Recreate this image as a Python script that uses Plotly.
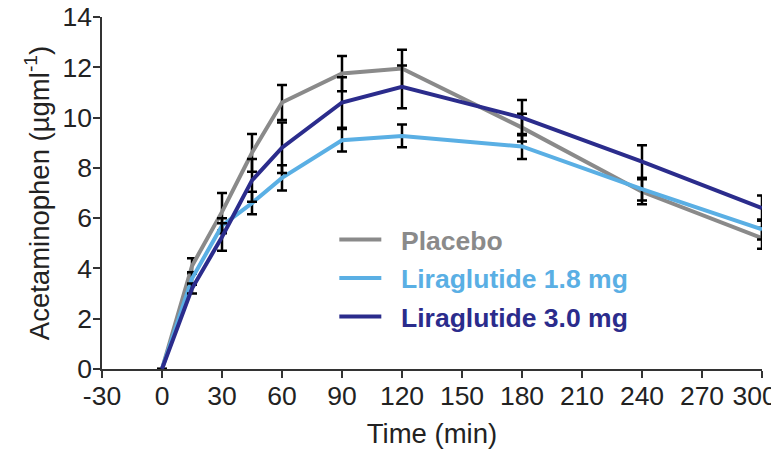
import plotly.graph_objects as go

time_min = [0, 15, 30, 45, 60, 90, 120, 180, 240, 300]

placebo = [0, 4.1, 6.25, 8.6, 10.6, 11.75, 11.95, 9.6, 7.05, 5.2]
placebo_err = [0, 0.3, 0.75, 0.75, 0.7, 0.7, 0.75, 0.55, 0.5, 0.42]

lira18 = [0, 3.6, 5.7, 6.6, 7.6, 9.1, 9.27, 8.85, 7.15, 5.55]
lira18_err = [0, 0.25, 0.3, 0.45, 0.5, 0.45, 0.45, 0.5, 0.45, 0.4]

lira30 = [0, 3.2, 5.25, 7.5, 8.8, 10.6, 11.22, 10.0, 8.25, 6.4]
lira30_err = [0, 0.2, 0.55, 0.85, 1.0, 1.0, 0.85, 0.7, 0.65, 0.5]

x_tickvals = [-30, 0, 30, 60, 90, 120, 150, 180, 210, 240, 270, 300]
x_ticktext = ["-30", "0", "30", "60", "90", "120", "150", "180", "210", "240", "270", "300"]
y_tickvals = [0, 2, 4, 6, 8, 10, 12, 14]

series = [
    ("Placebo", placebo, placebo_err, "#8a8a8a"),
    ("Liraglutide 1.8 mg", lira18, lira18_err, "#5aafe4"),
    ("Liraglutide 3.0 mg", lira30, lira30_err, "#2b2c8c"),
]

FONT = "Liberation Sans, Arial, Helvetica, sans-serif"

# the last tick label sits at the page edge; pad it so it stays fully visible
x_ticklabels = [t if t != x_ticktext[-1] else t + "&nbsp;&nbsp;" for t in x_ticktext]

fig = go.Figure()
for name, vals, errs, color in series:
    fig.add_trace(go.Scatter(
        x=time_min, y=vals, mode="lines",
        name=f"&nbsp;&nbsp;<b><span style='color:{color}'>{name}</span></b>",
        legendgroup=name,
        line=dict(color=color, width=4),
        error_y=dict(type="data", array=errs, visible=True,
                     color="black", thickness=2.5, width=5),
    ))

fig.update_layout(
    width=771, height=446,
    margin=dict(l=94, r=17, t=9, b=85),
    paper_bgcolor="white", plot_bgcolor="white",
    font=dict(family=FONT, size=26.5, color="#222222"),
    showlegend=True,
    legend=dict(x=0.352, y=0.435, xanchor="left", yanchor="top",
                bgcolor="rgba(0,0,0,0)", itemwidth=42,
                tracegroupgap=1,
                font=dict(family=FONT, size=26.5)),
    xaxis=dict(range=[-30, 300], tickvals=x_tickvals, ticktext=x_ticklabels,
               ticks="outside", ticklen=7, tickwidth=1.5, tickcolor="#333333",
               showline=True, linecolor="#333333", linewidth=1.5,
               showgrid=False, zeroline=False, automargin=False,
               ticklabelstandoff=-5, ticklabeloverflow="allow",
               title=dict(text="Time (min)", standoff=14,
                          font=dict(family=FONT, size=27.5)),
               tickfont=dict(family=FONT, size=26.5)),
    yaxis=dict(range=[0, 14], tickvals=y_tickvals,
               ticks="outside", ticklen=7, tickwidth=1.5, tickcolor="#333333",
               showline=True, linecolor="#333333", linewidth=1.5,
               showgrid=False, zeroline=False, automargin=False,
               ticklabelstandoff=-4, ticklabeloverflow="allow",
               title=dict(text="Acetaminophen (µgml<sup>-1</sup>)", standoff=5,
                          font=dict(family=FONT, size=27.5)),
               tickfont=dict(family=FONT, size=26.5)),
)

fig.write_html("out.html")
